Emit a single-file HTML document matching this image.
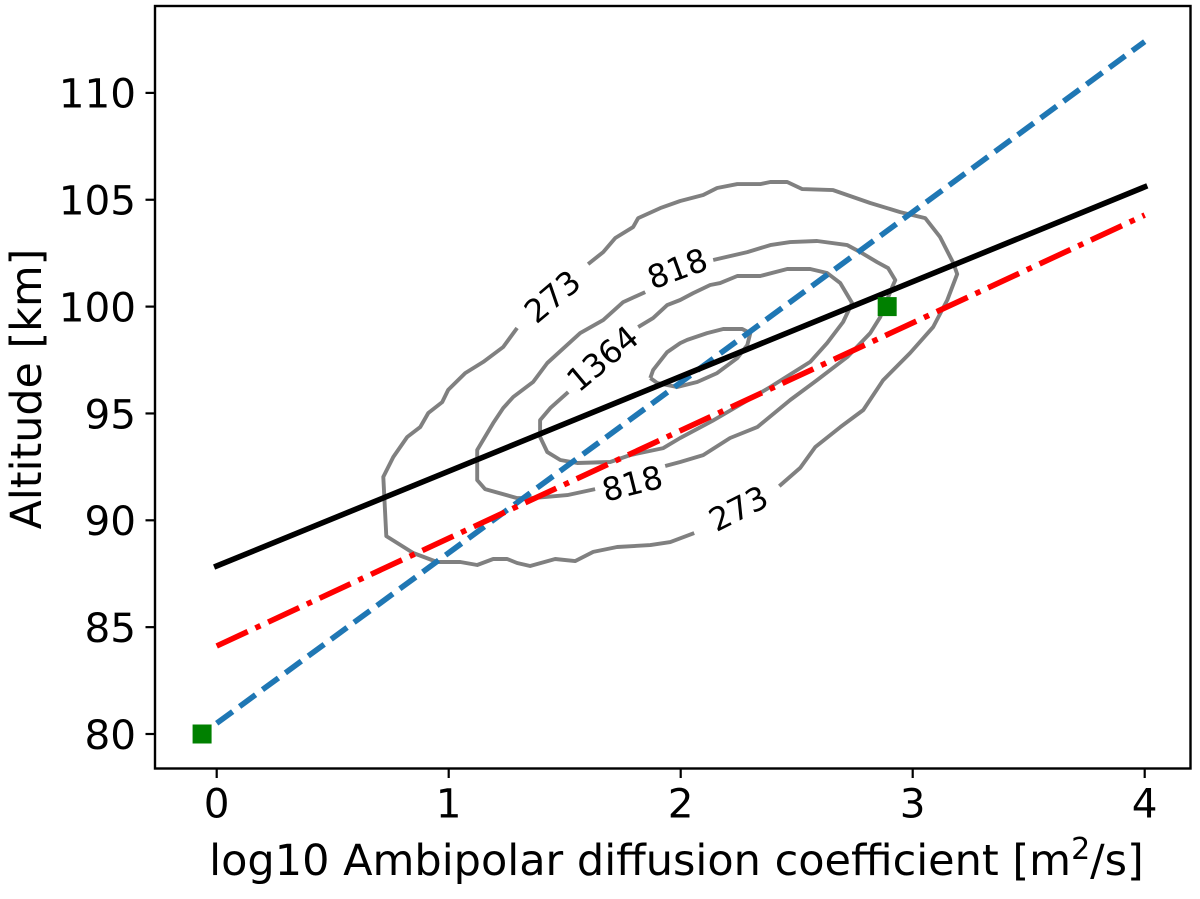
<!DOCTYPE html>
<html lang="en">
<head>
<meta charset="utf-8">
<title>Altitude vs ambipolar diffusion coefficient</title>
<style>
html,body{margin:0;padding:0;background:#fff;width:1200px;height:899px;overflow:hidden}
svg{display:block}
text{font-family:"DejaVu Sans","Liberation Sans",sans-serif;fill:#000}
</style>
</head>
<body>
<svg id="chart" width="1200" height="899" viewBox="0 0 1200 899" xmlns="http://www.w3.org/2000/svg">
<rect x="155" y="6" width="1035.5" height="762.5" fill="#fff"/>
<g id="contours"></g>
<g id="contourLabels"></g>
<g id="series"></g>
<g id="markers"></g>
<rect x="155" y="6" width="1035.5" height="762.5" fill="none" stroke="#000" stroke-width="2.4"/>
<g id="ticks"></g>
<text x="676.5" y="875" font-size="43" text-anchor="middle">log10 Ambipolar diffusion coefficient [m<tspan font-size="30" dy="-16">2</tspan><tspan dy="16">/s]</tspan></text>
<text transform="translate(41,389) rotate(-90)" font-size="42.8" text-anchor="middle">Altitude [km]</text>
</svg>
<script>
// Axis ticks
const xTickValues = [0, 1, 2, 3, 4];
const yTickValues = [80, 85, 90, 95, 100, 105, 110];

// Straight-line series: values at x = 0 and x = 4
const lineX = [0, 4];
const blueLineY = [80.5, 112.4];
const blackLineY = [87.86, 105.6];
const redLineY = [84.12, 104.28];

// Green square markers
const markerX = [-0.063, 2.89];
const markerY = [80, 100];

// Contour level 273, two pieces split by labels
const c273aX = [1.601,1.666,1.718,1.795,1.817,1.912,1.998,2.097,2.157,2.244,2.343,2.386,2.459,2.524,2.657,2.817,2.946,3.054,3.118,3.175,3.192,3.149,3.088,2.989,2.873,2.787,2.688,2.580,2.515,2.425];
const c273aY = [101.99,102.55,103.21,103.72,104.14,104.61,104.94,105.22,105.55,105.73,105.73,105.83,105.83,105.50,105.45,104.85,104.42,104.14,103.25,102.04,101.52,100.31,99.04,97.83,96.56,95.16,94.36,93.43,92.45,91.60];
const c273bX = [2.058,1.955,1.869,1.726,1.623,1.545,1.459,1.351,1.295,1.252,1.192,1.123,1.050,0.950,0.847,0.731,0.718,0.761,0.821,0.877,0.912,0.972,0.998,1.071,1.149,1.235,1.295];
const c273bY = [89.40,88.98,88.84,88.75,88.52,88.09,88.19,87.86,88.00,88.19,88.19,87.91,88.05,88.05,88.47,89.26,92.03,92.96,93.90,94.36,95.02,95.53,96.10,96.89,97.41,98.11,99.00];

// Contour level 818, two pieces
const c818aX = [2.140,2.287,2.386,2.472,2.588,2.718,2.774,2.847,2.894,2.925,2.912,2.860,2.817,2.718,2.588,2.472,2.330,2.213,2.097,1.998,1.933];
const c818aY = [102.18,102.55,102.88,103.02,103.07,102.88,102.55,102.08,101.80,101.24,100.92,99.51,98.76,97.64,96.56,95.63,94.36,93.85,93.05,92.73,92.54];
const c818bX = [1.847,1.752,1.666,1.567,1.524,1.425,1.364,1.278,1.235,1.192,1.123,1.123,1.157,1.295,1.364,1.511,1.631];
const c818bY = [100.68,100.21,99.37,98.76,98.34,97.36,96.47,95.77,95.25,94.55,93.29,91.88,91.46,91.04,91.04,91.18,91.46];

// Contour level 1364
const c1364X = [1.817,1.881,1.942,1.998,2.054,2.127,2.170,2.244,2.343,2.459,2.558,2.631,2.688,2.739,2.700,2.631,2.558,2.386,2.269,2.136,1.998,1.925,1.782,1.696,1.554,1.481,1.425,1.394,1.394,1.438,1.515];
const c1364Y = [99.04,99.46,100.07,100.31,100.63,101.01,101.10,101.43,101.43,101.76,101.76,101.57,101.10,100.17,99.28,98.29,97.41,96.24,95.49,94.65,93.85,93.38,93.05,92.73,92.68,92.82,93.19,93.90,94.69,95.25,96.00];

// Innermost unlabelled contour
const cInnerX = [1.869,1.881,1.942,1.998,2.028,2.114,2.183,2.265,2.300,2.287,2.244,2.157,2.071,1.985,1.899,1.869];
const cInnerY = [96.66,97.03,97.87,98.29,98.44,98.76,98.95,98.95,98.76,98.20,97.59,96.89,96.47,96.24,96.42,96.66];

// Contour labels
const contourLabelText = ["273", "818", "1364", "818", "273"];
const contourLabelX = [1.446, 1.985, 1.662, 1.791, 2.248];
const contourLabelY = [100.49, 101.80, 97.59, 91.74, 90.57];
const contourLabelAngle = [-40, -20, -40, -14, -27];

const NS = "http://www.w3.org/2000/svg";
function xScale(v) { return 216.7 + v * 232; }
function yScale(v) { return 734 - (v - 80) * 21.37; }
function make(tag, parentId) {
  const el = document.createElementNS(NS, tag);
  document.getElementById(parentId).appendChild(el);
  return el;
}
function pointsOf(xs, ys) {
  return xs.map(function (x, i) { return xScale(x).toFixed(1) + "," + yScale(ys[i]).toFixed(1); }).join(" ");
}
function contour(xs, ys) {
  const el = make("polyline", "contours");
  el.setAttribute("points", pointsOf(xs, ys));
  el.setAttribute("fill", "none");
  el.setAttribute("stroke", "#808080");
  el.setAttribute("stroke-width", "3.9");
  el.setAttribute("stroke-linejoin", "round");
  return el;
}
function fitLine(ys, color, dash, cap) {
  const el = make("polyline", "series");
  el.setAttribute("points", pointsOf(lineX, ys));
  el.setAttribute("fill", "none");
  el.setAttribute("stroke", color);
  el.setAttribute("stroke-width", "5.6");
  el.setAttribute("stroke-linecap", cap);
  if (dash) el.setAttribute("stroke-dasharray", dash);
  return el;
}

const c1 = contour(c273aX, c273aY);


const c2 = contour(c273bX, c273bY);


const c3 = contour(c818aX, c818aY);


const c4 = contour(c818bX, c818bY);


const c5 = contour(c1364X, c1364Y);


const c6 = contour(cInnerX, cInnerY);



contourLabelText.forEach(function (label, i) {
  const t = make("text", "contourLabels");
  
  
  const px = xScale(contourLabelX[i]);
  const py = yScale(contourLabelY[i]);
  t.setAttribute("transform", "translate(" + px + "," + py + ") rotate(" + contourLabelAngle[i] + ")");
  t.setAttribute("font-size", "32");
  t.setAttribute("text-anchor", "middle");
  t.setAttribute("dy", "11.7");
  t.textContent = label;
});

const blue = fitLine(blueLineY, "#1f77b4", "19.8 8.6", "butt");


const black = fitLine(blackLineY, "#000000", null, "square");


const red = fitLine(redLineY, "#ff0000", "34.2 8.5 5.5 8.5", "butt");



markerX.forEach(function (x, i) {
  const m = make("rect", "markers");
  
  
  m.setAttribute("x", xScale(x) - 9.5);
  m.setAttribute("y", yScale(markerY[i]) - 9.5);
  m.setAttribute("width", 19);
  m.setAttribute("height", 19);
  m.setAttribute("fill", "#008000");
});

xTickValues.forEach(function (v) {
  const px = xScale(v);
  const tick = make("line", "ticks");
  
  
  tick.setAttribute("x1", px);
  tick.setAttribute("x2", px);
  tick.setAttribute("y1", 768.5);
  tick.setAttribute("y2", 778);
  tick.setAttribute("stroke", "#000");
  tick.setAttribute("stroke-width", "2.2");
  const t = make("text", "ticks");
  
  
  t.setAttribute("x", px);
  t.setAttribute("y", 817.5);
  t.setAttribute("font-size", "40.5");
  t.setAttribute("text-anchor", "middle");
  t.textContent = String(v);
});

yTickValues.forEach(function (v) {
  const py = yScale(v);
  const tick = make("line", "ticks");
  
  
  tick.setAttribute("x1", 145.5);
  tick.setAttribute("x2", 155);
  tick.setAttribute("y1", py);
  tick.setAttribute("y2", py);
  tick.setAttribute("stroke", "#000");
  tick.setAttribute("stroke-width", "2.2");
  const t = make("text", "ticks");
  
  
  t.setAttribute("x", 136);
  t.setAttribute("y", py + 14.8);
  t.setAttribute("font-size", "40.5");
  t.setAttribute("text-anchor", "end");
  t.textContent = String(v);
});
</script>
</body>
</html>
